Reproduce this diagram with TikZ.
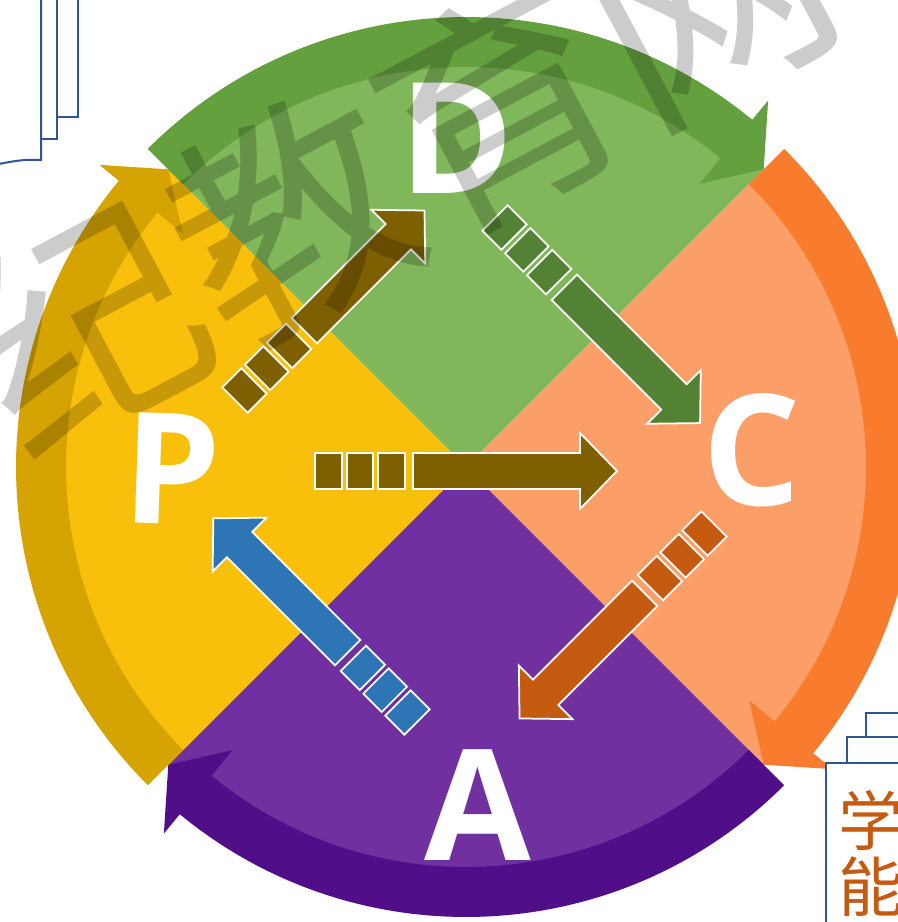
\documentclass[tikz,border=0pt]{standalone}
\usepackage{fontspec}
\setmainfont{Open Sans}
\newfontfamily\cjk{Noto Sans CJK SC}
\usetikzlibrary{positioning}

\definecolor{plight}{HTML}{F9C00B}
\definecolor{pband}{HTML}{D5A302}
\definecolor{dlight}{HTML}{80B75A}
\definecolor{dband}{HTML}{64A03E}
\definecolor{clight}{HTML}{FB9E68}
\definecolor{cband}{HTML}{F97C2E}
\definecolor{alight}{HTML}{7030A0}
\definecolor{aband}{HTML}{500E88}
\definecolor{goldarrow}{HTML}{7F6000}
\definecolor{greenarrow}{HTML}{548235}
\definecolor{orangearrow}{HTML}{C55A11}
\definecolor{bluearrow}{HTML}{2E75B6}
\definecolor{docblue}{HTML}{2F5597}

\begin{document}
\begin{tikzpicture}[x=0.2mm, y=-0.2mm]
\tikzstyle{letter}=[text=white, inner sep=0, font=\fontsize{88}{88}\selectfont\bfseries]
\tikzstyle{block}=[draw=white, line width=0.35mm, line join=miter]
\tikzstyle{doc}=[draw=docblue, fill=white, line width=0.4mm]
\tikzstyle{wmark}=[text=black, text opacity=0.2, inner sep=0, font=\cjk\fontsize{134}{134}\selectfont]
\useasboundingbox (0,0) rectangle (897,922);

% the four quarters with their ring arrows
\begin{scope}[shift={(466,467)}]
\fill[dlight] (0,0) -- (-135:421) arc[start angle=-135, end angle=-45, radius=421] -- cycle;
\fill[clight] (0,0) -- (-45:421) arc[start angle=-45, end angle=45, radius=421] -- cycle;
\fill[alight] (0,0) -- (45:421) arc[start angle=45, end angle=135, radius=421] -- cycle;
\fill[plight] (0,0) -- (135:421) arc[start angle=135, end angle=225, radius=421] -- cycle;
\fill[dband] (-135:400) -- (-135:450) arc[start angle=-135, end angle=-50.5, radius=450] -- (-50.5:475) -- (-45:421) -- (-50.5:367) -- (-50.5:400) arc[start angle=-50.5, end angle=-135, radius=400] -- cycle;
\fill[cband] (-45:400) -- (-45:450) arc[start angle=-45, end angle=39.5, radius=450] -- (39.5:475) -- (45:421) -- (39.5:367) -- (39.5:400) arc[start angle=39.5, end angle=-45, radius=400] -- cycle;
\fill[aband] (45:400) -- (45:450) arc[start angle=45, end angle=129.5, radius=450] -- (129.5:475) -- (135:421) -- (129.5:367) -- (129.5:400) arc[start angle=129.5, end angle=45, radius=400] -- cycle;
\fill[pband] (135:400) -- (135:450) arc[start angle=135, end angle=219.5, radius=450] -- (219.5:475) -- (225:421) -- (219.5:367) -- (219.5:400) arc[start angle=219.5, end angle=135, radius=400] -- cycle;
\end{scope}

% striped arrows
\begin{scope}[shift={(315,471)}]
\filldraw[block, fill=goldarrow] (0,-18) rectangle (27,18) (32,-18) rectangle (58,18) (63,-18) rectangle (90,18);
\filldraw[block, fill=goldarrow] (98,-18) -- (265,-18) -- (265,-38) -- (302,0) -- (265,38) -- (265,18) -- (98,18) -- cycle;
\end{scope}
\begin{scope}[shift={(235,400)}, rotate=45]
\filldraw[block, fill=goldarrow] (0,-18) rectangle (27,18) (32,-18) rectangle (58,18) (63,-18) rectangle (90,18);
\filldraw[block, fill=goldarrow] (98,-18) -- (231,-18) -- (231,-38) -- (268,0) -- (231,38) -- (231,18) -- (98,18) -- cycle;
\end{scope}
\begin{scope}[shift={(495,218)}, rotate=-45]
\filldraw[block, fill=greenarrow] (0,-18) rectangle (27,18) (32,-18) rectangle (58,18) (63,-18) rectangle (90,18);
\filldraw[block, fill=greenarrow] (98,-18) -- (253,-18) -- (253,-38) -- (290,0) -- (253,38) -- (253,18) -- (98,18) -- cycle;
\end{scope}
\begin{scope}[shift={(714,524)}, rotate=-135]
\filldraw[block, fill=orangearrow] (0,-18) rectangle (27,18) (32,-18) rectangle (58,18) (63,-18) rectangle (90,18);
\filldraw[block, fill=orangearrow] (98,-18) -- (238,-18) -- (238,-38) -- (275,0) -- (238,38) -- (238,18) -- (98,18) -- cycle;
\end{scope}
\begin{scope}[shift={(417,722)}, rotate=135]
\filldraw[block, fill=bluearrow] (0,-18) rectangle (27,18) (32,-18) rectangle (58,18) (63,-18) rectangle (90,18);
\filldraw[block, fill=bluearrow] (98,-18) -- (251,-18) -- (251,-38) -- (288,0) -- (251,38) -- (251,18) -- (98,18) -- cycle;
\end{scope}

% letters
\node[letter] (D) at (457,138) {D};
\node[letter, rotate=-2] (P) at (172,469) {P};
\node[letter] (C) at (752,450) {C};
\node[letter] (A) at (478,805) {A};

% document stacks cut by the border
\draw[doc] (-10,-10) rectangle (78,117);
\draw[doc] (-10,-10) rectangle (57,139);
\draw[doc] (-10,-10) -- (41,-10) -- (41,160) .. controls (25,159) and (12,161) .. (-10,166) -- cycle;
\draw[doc] (866,713) rectangle (960,960);
\draw[doc] (847,737) rectangle (960,960);
\draw[doc] (826,763) rectangle (960,960);
\node[anchor=west, inner sep=0, text=orangearrow, font=\cjk\fontsize{37}{37}\selectfont] (xue) at (838,820) {学};
\node[below=1.1mm of xue, inner sep=0, text=orangearrow, font=\cjk\fontsize{37}{37}\selectfont] (neng) {能};

% watermark
\node[wmark, rotate=28, anchor=east] (wm) at (811,-60) {纪教育网};
\end{tikzpicture}
\end{document}
